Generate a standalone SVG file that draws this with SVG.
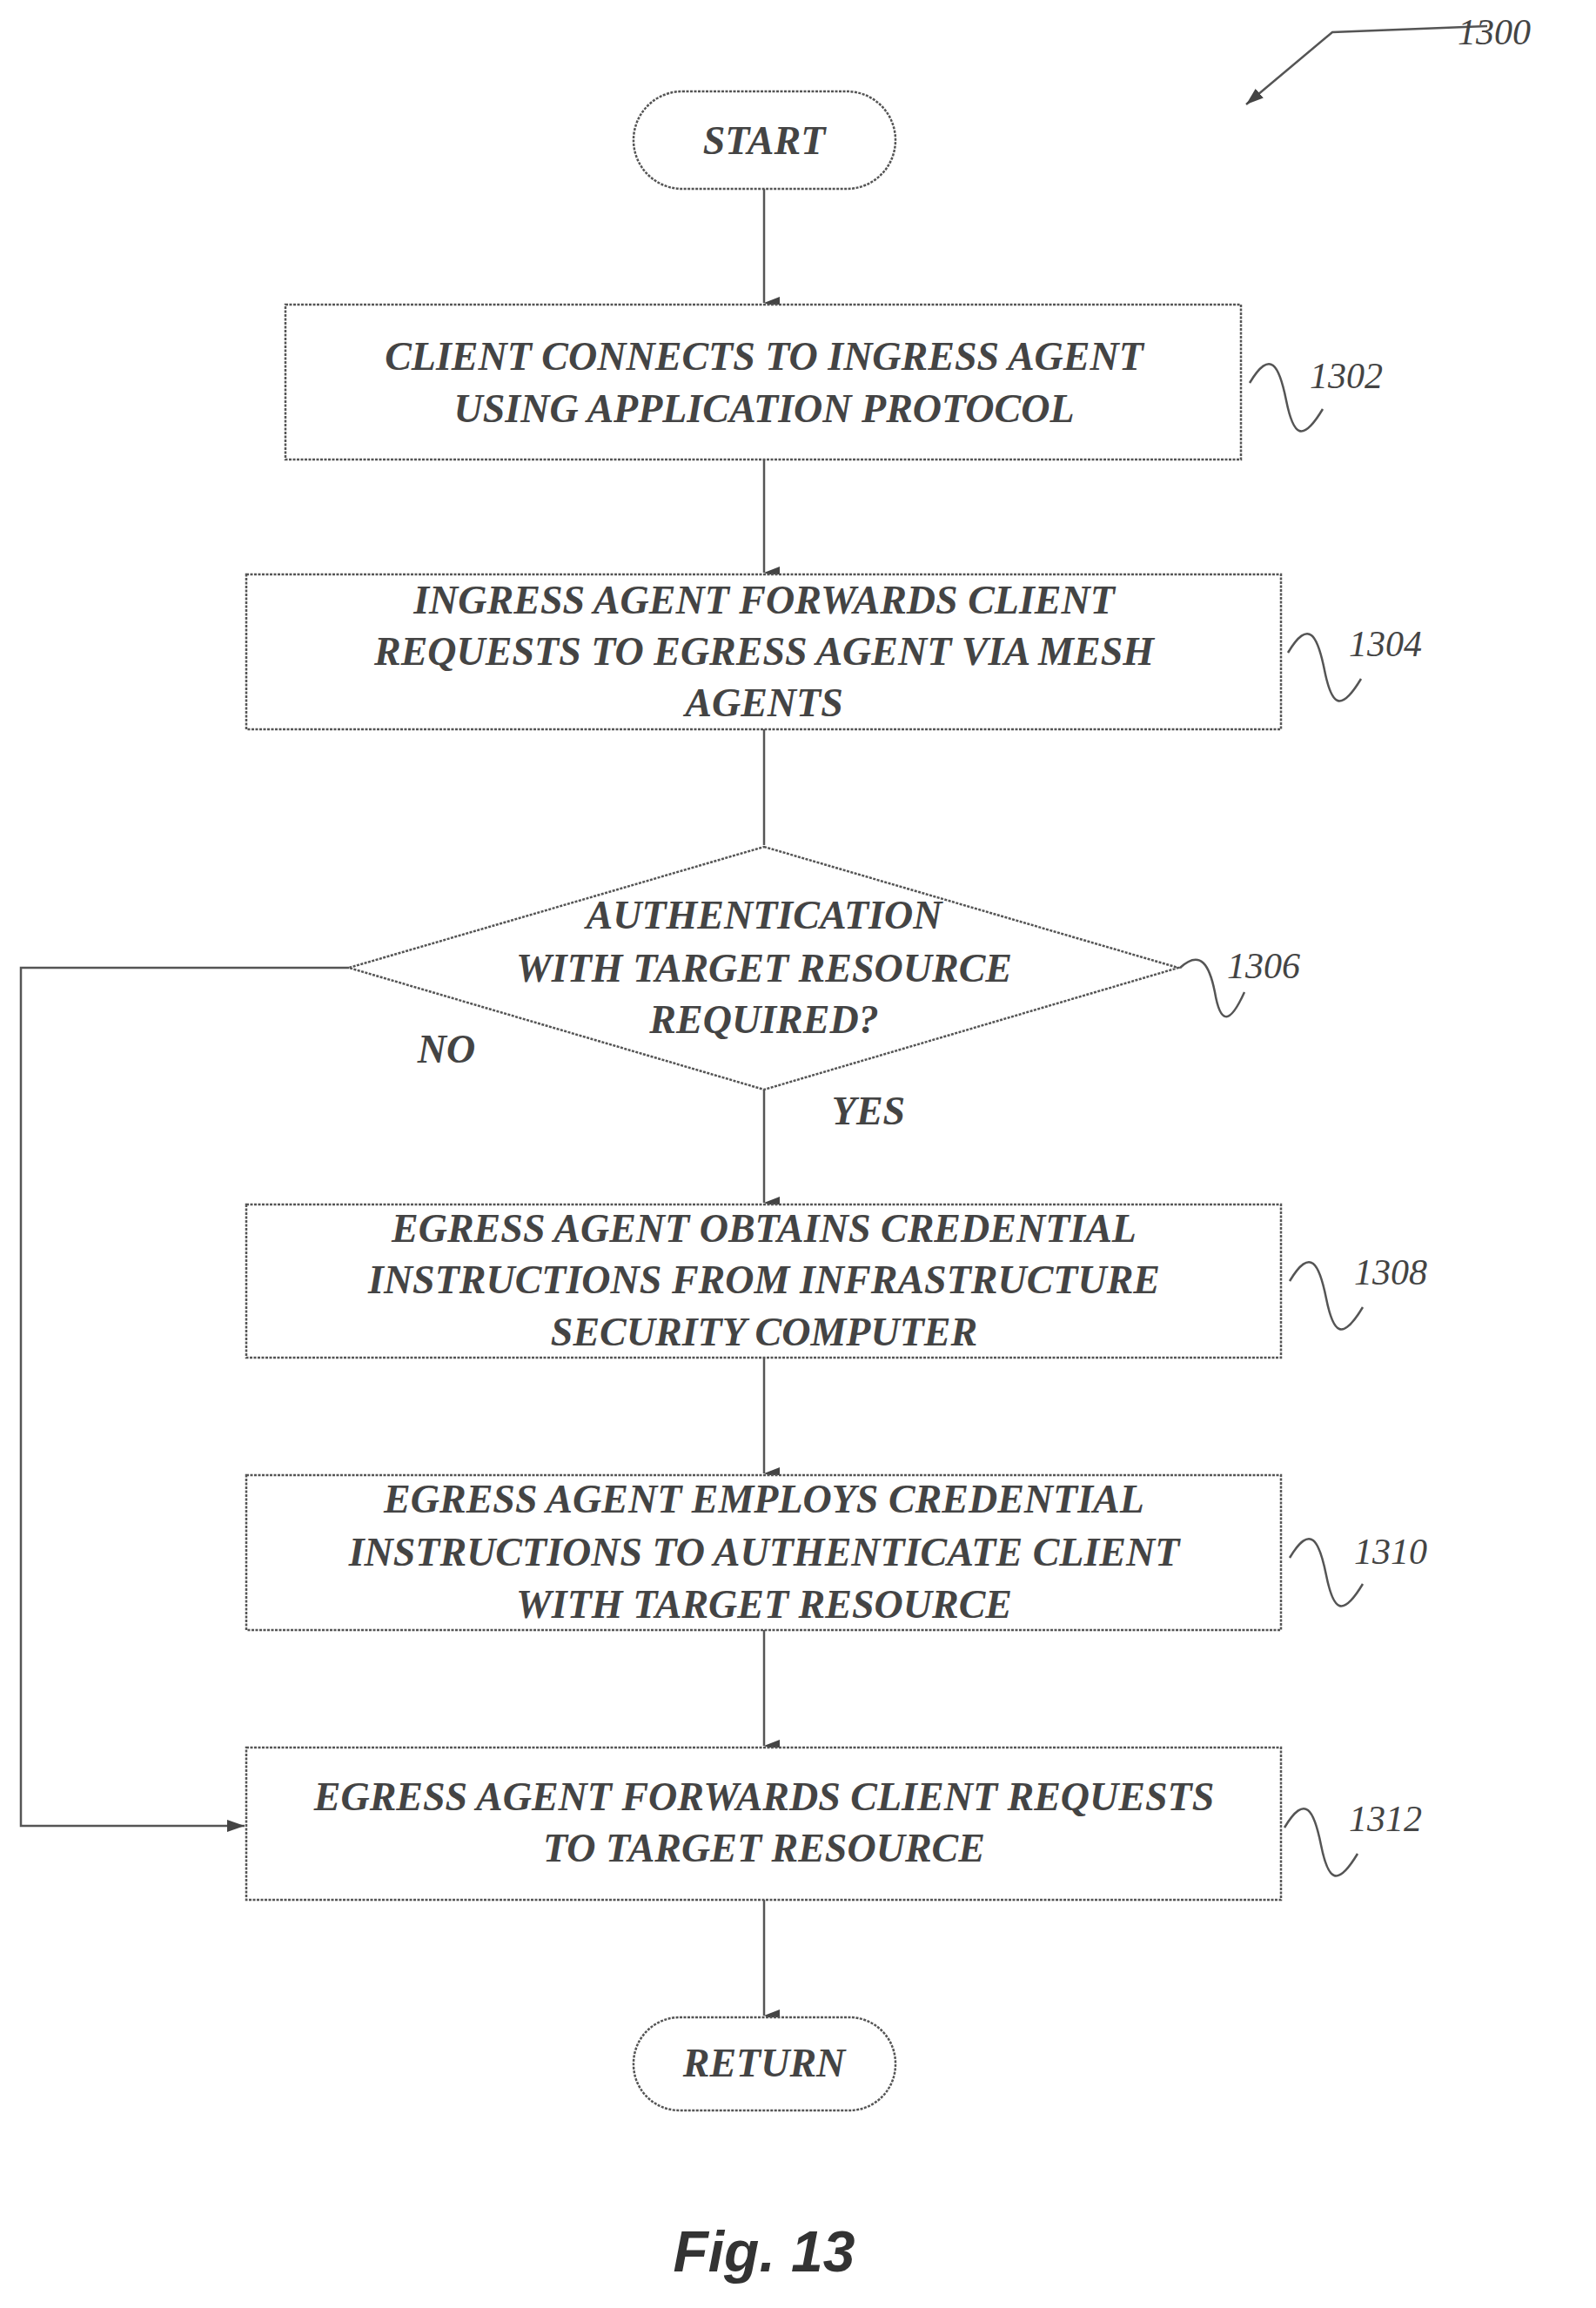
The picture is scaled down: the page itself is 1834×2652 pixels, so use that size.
<svg xmlns="http://www.w3.org/2000/svg" width="1834" height="2652" viewBox="0 0 1834 2652">
<defs>
<marker id="ah" markerWidth="14" markerHeight="18" refX="7" refY="18" orient="auto-start-reverse" markerUnits="userSpaceOnUse" viewBox="0 0 14 18"><path d="M0,0 L14,0 L7,18 Z" fill="#444"/></marker>
<marker id="ahr" markerWidth="20" markerHeight="14" refX="20" refY="7" orient="auto" markerUnits="userSpaceOnUse" viewBox="0 0 20 14"><path d="M0,0 L20,7 L0,14 Z" fill="#444"/></marker>
</defs>
<style>
.s{fill:#fff;stroke:#555;stroke-width:2.5;stroke-dasharray:3 1.5}
.t{font-family:"Liberation Serif",serif;font-style:italic;font-weight:bold;font-size:46px;fill:#444;text-anchor:middle;dominant-baseline:central}
.r{font-family:"Liberation Serif",serif;font-style:italic;font-size:42px;fill:#444;text-anchor:middle;dominant-baseline:central}
.c{fill:none;stroke:#555;stroke-width:2.5}
</style>
<rect width="1834" height="2652" fill="#fff"/>
<g id="connectors">
<line class="c" x1="878" y1="217" x2="878" y2="348" marker-end="url(#ah)"/>
<line class="c" x1="878" y1="528" x2="878" y2="658" marker-end="url(#ah)"/>
<line class="c" x1="878" y1="838" x2="878" y2="971"/>
<line class="c" x1="878" y1="1252" x2="878" y2="1382" marker-end="url(#ah)"/>
<line class="c" x1="878" y1="1560" x2="878" y2="1693" marker-end="url(#ah)"/>
<line class="c" x1="878" y1="1873" x2="878" y2="2006" marker-end="url(#ah)"/>
<line class="c" x1="878" y1="2183" x2="878" y2="2316" marker-end="url(#ah)"/>
<polyline class="c" points="401,1112 24,1112 24,2098 281,2098" marker-end="url(#ahr)"/>
<polyline class="c" points="1709,30 1531,37 1432,120" marker-end="url(#ahr)"/>
</g>
<g id="start"><rect class="s" x="728" y="105" width="301" height="112" rx="56"/><text class="t" x="878" y="161">START</text></g>
<g id="n1302"><rect class="s" x="328" y="350" width="1098" height="178"/><text class="t" x="878" y="409">CLIENT CONNECTS TO INGRESS AGENT</text><text class="t" x="878" y="469">USING APPLICATION PROTOCOL</text></g>
<g id="n1304"><rect class="s" x="283" y="660" width="1189" height="178"/><text class="t" x="878" y="689">INGRESS AGENT FORWARDS CLIENT</text><text class="t" x="878" y="748">REQUESTS TO EGRESS AGENT VIA MESH</text><text class="t" x="878" y="807">AGENTS</text></g>
<g id="n1306"><polygon class="s" points="878,973 1354,1112 878,1252 401,1112"/><text class="t" x="878" y="1051">AUTHENTICATION</text><text class="t" x="878" y="1112">WITH TARGET RESOURCE</text><text class="t" x="878" y="1171">REQUIRED?</text></g>
<g id="n1308"><rect class="s" x="283" y="1384" width="1189" height="176"/><text class="t" x="878" y="1411">EGRESS AGENT OBTAINS CREDENTIAL</text><text class="t" x="878" y="1470">INSTRUCTIONS FROM INFRASTRUCTURE</text><text class="t" x="878" y="1530">SECURITY COMPUTER</text></g>
<g id="n1310"><rect class="s" x="283" y="1695" width="1189" height="178"/><text class="t" x="878" y="1722">EGRESS AGENT EMPLOYS CREDENTIAL</text><text class="t" x="878" y="1783">INSTRUCTIONS TO AUTHENTICATE CLIENT</text><text class="t" x="878" y="1843">WITH TARGET RESOURCE</text></g>
<g id="n1312"><rect class="s" x="283" y="2008" width="1189" height="175"/><text class="t" x="878" y="2064">EGRESS AGENT FORWARDS CLIENT REQUESTS</text><text class="t" x="878" y="2123">TO TARGET RESOURCE</text></g>
<g id="return"><rect class="s" x="728" y="2318" width="301" height="107" rx="53"/><text class="t" x="878" y="2370">RETURN</text></g>
<g id="labels">
<text class="t" x="513" y="1205">NO</text>
<text class="t" x="998" y="1276">YES</text>
<text class="r" x="1717" y="37">1300</text>
<text class="r" x="1547" y="432">1302</text>
<text class="r" x="1592" y="740">1304</text>
<text class="r" x="1452" y="1110">1306</text>
<text class="r" x="1598" y="1462">1308</text>
<text class="r" x="1598" y="1783">1310</text>
<text class="r" x="1592" y="2090">1312</text>
<path class="c" d="M1436,440 C1460,400 1470,420 1478,460 C1486,500 1496,510 1520,470"/>
<path class="c" d="M1480,750 C1504,710 1514,730 1522,770 C1530,810 1540,820 1564,780"/>
<path class="c" d="M1356,1112 C1380,1090 1390,1110 1396,1140 C1402,1175 1412,1180 1430,1140"/>
<path class="c" d="M1482,1472 C1506,1432 1516,1452 1524,1492 C1532,1532 1542,1542 1566,1502"/>
<path class="c" d="M1482,1790 C1506,1750 1516,1770 1524,1810 C1532,1850 1542,1860 1566,1820"/>
<path class="c" d="M1476,2100 C1500,2060 1510,2080 1518,2120 C1526,2160 1536,2170 1560,2130"/>
<text x="878" y="2610" style="font-family:'Liberation Sans',sans-serif;font-style:italic;font-weight:bold;font-size:66px;fill:#333;text-anchor:middle">Fig. 13</text>
</g>
</svg>
